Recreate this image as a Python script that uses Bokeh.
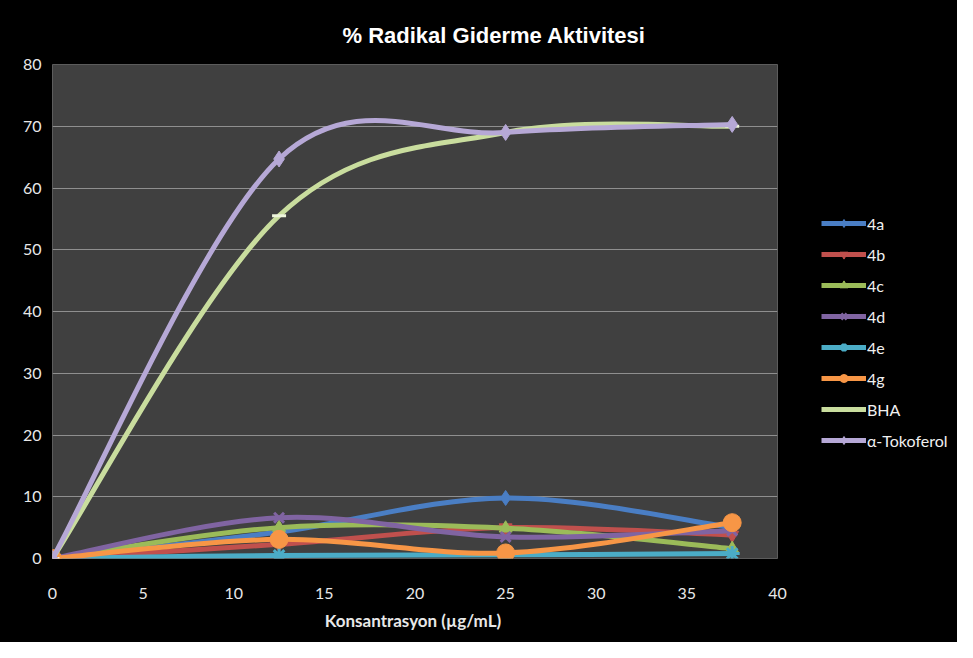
from bokeh.plotting import figure
from bokeh.layouts import row
from bokeh.models import Legend, LegendItem, ColumnDataSource, FixedTicker
from bokeh.embed import file_html
from bokeh.resources import INLINE

# ---- data ----
conc = [0, 12.5, 25, 37.5]
s_4a = [0, 4.3, 9.8, 5.0]
s_4b = [0, 2.3, 5.0, 3.8]
s_4c = [0, 5.0, 4.9, 1.6]
s_4d = [0, 6.6, 3.5, 4.5]
s_4e = [0, 0.5, 0.6, 0.8]
s_4g = [0, 3.1, 0.9, 5.8]
s_bha = [0, 55.5, 69.0, 70.0]
s_toko = [0, 64.7, 69.0, 70.3]
series_names = ["4a", "4b", "4c", "4d", "4e", "4g", "BHA", "α-Tokoferol"]
y_ticks = [0, 10, 20, 30, 40, 50, 60, 70, 80]
x_ticks = [0, 5, 10, 15, 20, 25, 30, 35, 40]

series_values = [s_4a, s_4b, s_4c, s_4d, s_4e, s_4g, s_bha, s_toko]
colors = ["#4A7EC4", "#C0504D", "#9BBB59", "#8064A2", "#4BACC6", "#F79646", "#C9DD9E", "#B6A8D6"]
markers = ["diamond", "inverted_triangle", "triangle", "x", "asterisk", "circle", "dash", "diamond"]
msizes = [15, 13, 13, 14, 15, 18, 14, 16]

p = figure(width=787, height=642, output_backend="svg", toolbar_location=None,
           x_range=(0, 40), y_range=(0, 80),
           min_border_left=52, min_border_top=64, min_border_right=10, min_border_bottom=84,
           background_fill_color="#404040", border_fill_color="black",
           outline_line_color="#5c5c5c")

p.title.text = "% Radikal Giderme Aktivitesi"
p.title.text_color = "white"
p.title.text_font = "Liberation Sans"
p.title.text_font_style = "bold"
p.title.text_font_size = "22px"
p.title.align = "left"
p.title.offset = 290
p.title.standoff = 34

p.xgrid.grid_line_color = None
p.ygrid.grid_line_color = "#8f8f8f"
p.ygrid.grid_line_width = 1.2
p.ygrid.ticker = FixedTicker(ticks=y_ticks)

for ax in (p.xaxis[0], p.yaxis[0]):
    ax.axis_line_color = None
    ax.major_tick_line_color = None
    ax.minor_tick_line_color = None
    ax.major_label_text_color = "#e8e8e8"
    ax.major_label_text_font = "Lato"
    ax.major_label_text_font_size = "16px"
p.yaxis.ticker = FixedTicker(ticks=y_ticks)
p.xaxis.ticker = FixedTicker(ticks=x_ticks)
p.yaxis.major_label_standoff = 5
p.xaxis.major_label_standoff = 23
p.xaxis.axis_label = "Konsantrasyon  (µg/mL)"
p.xaxis.axis_label_text_color = "#e8e8e8"
p.xaxis.axis_label_text_font = "Lato"
p.xaxis.axis_label_text_font_style = "bold"
p.xaxis.axis_label_text_font_size = "17px"
p.xaxis.axis_label_standoff = 8


def smooth_segments(xs, ys):
    # Excel-like smoothed line: cubic Bezier segments through the data points
    n = len(xs)
    d = dict(x0=[], y0=[], x1=[], y1=[], cx0=[], cy0=[], cx1=[], cy1=[])
    for i in range(n - 1):
        xp, yp = (xs[i - 1], ys[i - 1]) if i > 0 else (xs[i], ys[i])
        xn, yn = (xs[i + 2], ys[i + 2]) if i + 2 < n else (xs[i + 1], ys[i + 1])
        d["x0"].append(xs[i]); d["y0"].append(ys[i])
        d["x1"].append(xs[i + 1]); d["y1"].append(ys[i + 1])
        d["cx0"].append(xs[i] + (xs[i + 1] - xp) / 6.0)
        d["cy0"].append(ys[i] + (ys[i + 1] - yp) / 6.0)
        d["cx1"].append(xs[i + 1] - (xn - xs[i]) / 6.0)
        d["cy1"].append(ys[i + 1] - (yn - ys[i]) / 6.0)
    return ColumnDataSource(d)


def add_marker(fig, src, mk, ms, col):
    if mk in ("x", "asterisk", "dash"):
        return fig.scatter("x", "y", source=src, marker=mk, size=ms,
                           line_color=col if mk != "dash" else "#EEF5DC", line_width=3)
    return fig.scatter("x", "y", source=src, marker=mk, size=ms,
                       fill_color=col, line_color=col, line_width=1)


# legend panel: a second figure (its ranges keep its own copies of the series out of view)
pl = figure(width=170, height=642, output_backend="svg", toolbar_location=None,
            x_range=(1000, 1001), y_range=(1000, 1001),
            min_border_left=0, min_border_right=0, min_border_top=64, min_border_bottom=84,
            background_fill_color="black", border_fill_color="black",
            outline_line_color="black")
pl.axis.visible = False
pl.grid.visible = False

items = []
for name, vals, col, mk, ms in zip(series_names, series_values, colors, markers, msizes):
    src = smooth_segments(conc, vals)
    p.bezier(x0="x0", y0="y0", x1="x1", y1="y1", cx0="cx0", cy0="cy0",
             cx1="cx1", cy1="cy1", source=src, line_color=col, line_width=5)
    pts = ColumnDataSource(dict(x=conc, y=vals))
    add_marker(p, pts, mk, ms, col)

    lr = pl.line("x", "y", source=pts, line_color=col, line_width=5)
    rs = [lr]
    if name != "BHA":
        rs.append(add_marker(pl, pts, mk, ms, col))
    items.append(LegendItem(label=name, renderers=rs))

legend = Legend(items=items, location=(34, 108))
legend.background_fill_color = "black"
legend.border_line_color = None
legend.label_text_color = "#f0f0f0"
legend.label_text_font = "Lato"
legend.label_text_font_size = "16px"
legend.glyph_width = 45
legend.glyph_height = 20
legend.label_height = 20
legend.spacing = 11
legend.padding = 5
legend.margin = 0
legend.label_standoff = 1
pl.add_layout(legend)

layout = row(p, pl, spacing=0, styles={"background-color": "black"})
open("out.html", "w").write(file_html(layout, INLINE))
